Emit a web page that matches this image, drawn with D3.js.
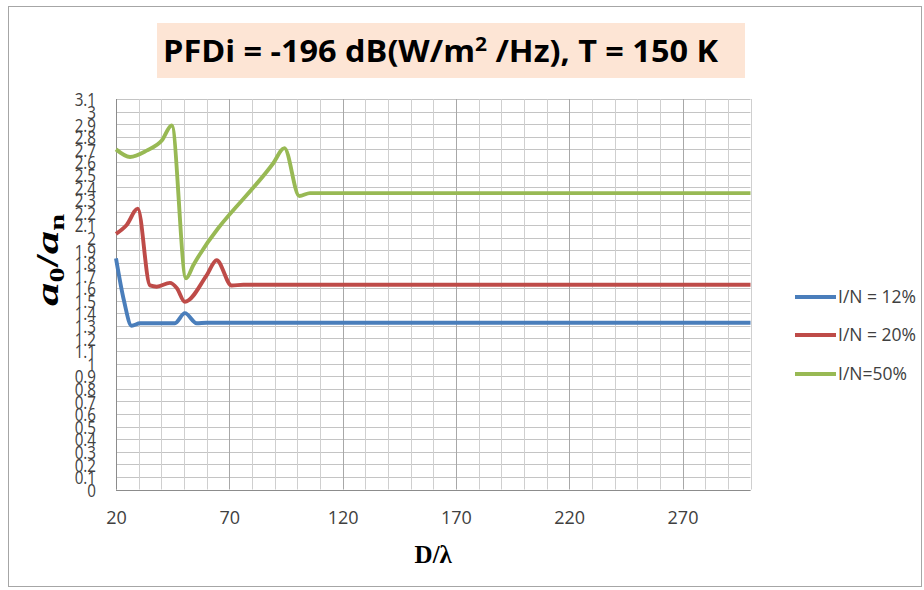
<!DOCTYPE html>
<html>
<head>
<meta charset="utf-8">
<script src="https://cdn.jsdelivr.net/npm/d3@7"></script>
<style>
  body { margin: 0; background: #fff; }
  svg { display: block; }
</style>
</head>
<body>
<svg id="chart"></svg>
<script>
// DATA

var seriesNames = ["I/N = 12%", "I/N = 20%", "I/N=50%"];

var xBlue = [20, 23.5, 26.9, 30.6, 43.8, 46, 50.4, 55.6, 60, 300];
var yBlue = [1.835, 1.50, 1.30, 1.32, 1.32, 1.32, 1.40, 1.32, 1.324, 1.324];

var xRed = [20, 24.7, 29.6, 35, 38, 43.8, 46.8, 50.4, 60, 64.4, 71, 76.2, 300];
var yRed = [2.03, 2.10, 2.23, 1.62, 1.61, 1.64, 1.60, 1.49, 1.70, 1.82, 1.62, 1.625, 1.625];

var xGreen = [20, 26.2, 33.5, 40.2, 44.6, 50.9, 54.1, 89.4, 94.3, 100.9, 105.6, 300];
var yGreen = [2.70, 2.64, 2.69, 2.77, 2.89, 1.676, 1.78, 2.59, 2.71, 2.33, 2.353, 2.353];

var xTickLabels = [20, 70, 120, 170, 220, 270];
var xGridValues = [20, 30, 40, 50, 60, 70, 80, 90, 100, 110, 120, 130, 140, 150, 160, 170,
                   180, 190, 200, 210, 220, 230, 240, 250, 260, 270, 280, 290, 300];
var yTickLabels = [0, 0.1, 0.2, 0.3, 0.4, 0.5, 0.6, 0.7, 0.8, 0.9, 1, 1.1, 1.2, 1.3, 1.4, 1.5,
                   1.6, 1.7, 1.8, 1.9, 2, 2.1, 2.2, 2.3, 2.4, 2.5, 2.6, 2.7, 2.8, 2.9, 3, 3.1];

var colors = ["#4a7ebb", "#be4b48", "#98b954"];

// set the dimensions and margins of the graph
var W = 924, H = 590;
var margin = {top: 99, right: 173.5, bottom: 100.5, left: 116},
    width = W - margin.left - margin.right,
    height = H - margin.top - margin.bottom;

var svg = d3.select("#chart")
    .attr("width", W)
    .attr("height", H);

// outer frame
svg.append("rect")
    .attr("x", 8.5).attr("y", 6.5)
    .attr("width", 913).attr("height", 580)
    .attr("fill", "#fff")
    .attr("stroke", "#a6a6a6");

// title box
svg.append("rect")
    .attr("x", 157).attr("y", 23)
    .attr("width", 588).attr("height", 55)
    .attr("fill", "#fde5d5");

var title = svg.append("text")
    .attr("x", 163).attr("y", 62)
    .attr("textLength", 555)
    .attr("lengthAdjust", "spacingAndGlyphs")
    .style("font-family", "'Open Sans', sans-serif")
    .style("font-weight", "bold")
    .style("font-size", "31px")
    .attr("fill", "#000");
title.append("tspan").text("PFDi = -196 dB(W/m");
title.append("tspan").attr("dy", -11).style("font-size", "20px").text("2");
title.append("tspan").attr("dy", 11).text(" /Hz), T = 150 K");

var x = d3.scaleLinear().domain([20, 300]).range([0, width]);
var y = d3.scaleLinear().domain([0, 3.1]).range([height, 0]);

var g = svg.append("g")
    .attr("transform", "translate(" + margin.left + "," + margin.top + ")");

// grid lines
g.selectAll(".hgrid")
  .data(yTickLabels)
  .join("line")
    .attr("class", "hgrid")
    .attr("x1", 0).attr("x2", width)
    .attr("y1", d => Math.round(y(d)) + 0.5)
    .attr("y2", d => Math.round(y(d)) + 0.5)
    .attr("stroke", "#c4c4c4");

g.selectAll(".vgrid")
  .data(xGridValues)
  .join("line")
    .attr("class", "vgrid")
    .attr("y1", 0).attr("y2", height)
    .attr("x1", d => Math.round(x(d)) + 0.5)
    .attr("x2", d => Math.round(x(d)) + 0.5)
    .attr("stroke", d => xTickLabels.includes(d) ? "#a8a8a8" : "#cfcfcf");

// axis lines
g.append("line").attr("x1", 0.5).attr("x2", 0.5).attr("y1", 0).attr("y2", height)
    .attr("stroke", "#8c8c8c");
g.append("line").attr("x1", 0).attr("x2", width)
    .attr("y1", Math.round(height) + 0.5).attr("y2", Math.round(height) + 0.5)
    .attr("stroke", "#8c8c8c");

// x axis labels
var xAxis = g.append("g")
    .attr("transform", "translate(0," + height + ")")
    .call(d3.axisBottom(x).tickValues(xTickLabels).tickSize(0).tickFormat(d3.format("d")));
xAxis.select(".domain").remove();
xAxis.selectAll("text")
    .attr("y", 22)
    .attr("dy", "0.71em")
    .style("font-family", "'Open Sans', sans-serif")
    .style("font-size", "18px")
    .attr("fill", "#404040");

// y axis labels (squeezed and overlapping like in the original)
var yAxis = g.append("g")
    .call(d3.axisLeft(y).tickValues(yTickLabels).tickSize(0).tickFormat(d => d3.format("")(+d.toFixed(1))));
yAxis.select(".domain").remove();
yAxis.selectAll("text")
    .attr("x", 0)
    .attr("dy", "0.36em")
    .attr("transform", "translate(-20,0) scale(0.8,1)")
    .style("font-family", "'Open Sans', sans-serif")
    .style("font-size", "19px")
    .attr("fill", "#404040");

// axis titles
svg.append("text")
    .attr("x", margin.left + width / 2)
    .attr("y", 563)
    .attr("text-anchor", "middle")
    .style("font-family", "'Liberation Serif', serif")
    .style("font-weight", "bold")
    .style("font-size", "25px")
    .text("D/λ");

// y title, stretched along its length like in the original
var yTitle = svg.append("text")
    .attr("transform", "translate(58,260) rotate(-90)")
    .attr("x", -46)
    .attr("textLength", 92)
    .attr("lengthAdjust", "spacingAndGlyphs")
    .style("font-family", "'Liberation Serif', serif")
    .style("font-weight", "bold")
    .style("font-size", "31px");
yTitle.append("tspan").style("font-style", "italic").text("a");
yTitle.append("tspan").attr("dy", 6).style("font-size", "20px").text("0");
yTitle.append("tspan").attr("dy", -6).text("/");
yTitle.append("tspan").style("font-style", "italic").text("a");
yTitle.append("tspan").attr("dy", 6).style("font-size", "20px").text("n");

// lines
var series = [
    {name: seriesNames[0], xs: xBlue, ys: yBlue},
    {name: seriesNames[1], xs: xRed, ys: yRed},
    {name: seriesNames[2], xs: xGreen, ys: yGreen}
];

var line = d3.line()
    .x(d => x(d[0]))
    .y(d => y(d[1]))
    .curve(d3.curveMonotoneX);

g.selectAll(".series")
  .data(series)
  .join("path")
    .attr("class", "series")
    .attr("fill", "none")
    .attr("stroke", (d, i) => colors[i])
    .attr("stroke-width", 3.9)
    .attr("stroke-linejoin", "round")
    .attr("d", d => line(d.xs.map((v, i) => [v, d.ys[i]])));

// legend
var legendY = [297, 335, 374];
var legend = svg.selectAll(".legend")
  .data(series)
  .join("g")
    .attr("class", "legend")
    .attr("transform", (d, i) => "translate(795," + legendY[i] + ")");
legend.append("line")
    .attr("x1", 0).attr("x2", 41)
    .attr("stroke", (d, i) => colors[i])
    .attr("stroke-width", 4);
legend.append("text")
    .attr("x", 43)
    .attr("dy", "0.36em")
    .style("font-family", "'Open Sans', sans-serif")
    .style("font-size", "17.5px")
    .attr("fill", "#404040")
    .text(d => d.name);
</script>
</body>
</html>
